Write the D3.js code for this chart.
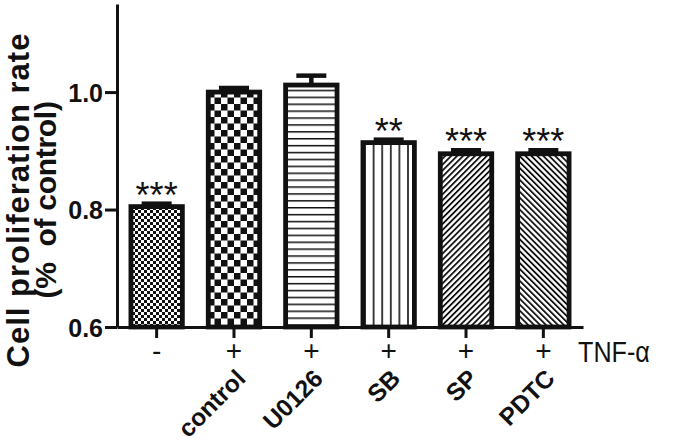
<!DOCTYPE html>
<html><head><meta charset="utf-8">
<script src="https://cdn.jsdelivr.net/npm/d3@7"></script>
<style>
body{margin:0;background:#fff}
svg{display:block}
text{font-family:"Liberation Sans",Arial,Helvetica,sans-serif;fill:#111}
</style>
</head><body>
<script>
// ---- data ----
const groups = ["g1","g2","g3","g4","g5","g6"];
const tnfSigns = ["-","+","+","+","+","+"];
const drugLabels = ["","control","U0126","SB","SP","PDTC"];
const means = [0.805,1.000,1.012,0.914,0.895,0.895];
const sems = [0.005,0.007,0.016,0.005,0.006,0.006];
const stars = ["***","","","**","***","***"];
const yTicks = [0.6,0.8,1.0];
const patternIds = ["fineCheck","coarseCheck","hLines","vLines","diagUp","diagDown"];

const W = 680, H = 442;
const ink = "#111";
const svg = d3.select("body").append("svg").attr("width",W).attr("height",H);

// ---- patterns ----
const defs = svg.append("defs");
function checker(id, s){
  const p = defs.append("pattern").attr("id",id).attr("patternUnits","userSpaceOnUse")
    .attr("width",2*s).attr("height",2*s);
  p.append("rect").attr("width",2*s).attr("height",2*s).attr("fill","#fff");
  p.append("rect").attr("width",s).attr("height",s).attr("fill",ink);
  p.append("rect").attr("x",s).attr("y",s).attr("width",s).attr("height",s).attr("fill",ink);
}
checker("fineCheck",3);
checker("coarseCheck",6.5);
{
  const p = defs.append("pattern").attr("id","hLines").attr("patternUnits","userSpaceOnUse").attr("width",10).attr("height",6.9);
  p.append("rect").attr("width",10).attr("height",6.9).attr("fill","#fff");
  p.append("rect").attr("y",0).attr("width",10).attr("height",1.5).attr("fill",ink);
}
{
  const p = defs.append("pattern").attr("id","vLines").attr("patternUnits","userSpaceOnUse").attr("width",8.6).attr("height",10);
  p.append("rect").attr("width",8.6).attr("height",10).attr("fill","#fff");
  p.append("rect").attr("x",3).attr("width",1.6).attr("height",10).attr("fill",ink);
}
function diag(id, angle){
  const p = defs.append("pattern").attr("id",id).attr("patternUnits","userSpaceOnUse")
    .attr("width",4.2).attr("height",10).attr("patternTransform",`rotate(${angle})`);
  p.append("rect").attr("width",4.2).attr("height",10).attr("fill","#fff");
  p.append("rect").attr("width",1.8).attr("height",10).attr("fill",ink);
}
diag("diagUp",45);
diag("diagDown",-45);

// ---- scales ----
const y = d3.scaleLinear().domain([0.6,1.15]).range([327,4]);
const x = d3.scaleBand().domain(groups).range([117,583]).paddingInner(0.335).paddingOuter(0.18);
const bw = x.bandwidth();
const cx = g => x(g) + bw/2;

// ---- bars ----
const data = groups.map((g,i)=>({g, sign:tnfSigns[i], label:drugLabels[i], mean:means[i], sem:sems[i], star:stars[i], pat:patternIds[i]}));

svg.append("g").selectAll("rect").data(data).join("rect")
  .attr("x",d=>x(d.g)).attr("width",bw)
  .attr("y",d=>y(d.mean)).attr("height",d=>y(0.6)-y(d.mean))
  .attr("fill",d=>`url(#${d.pat})`).attr("stroke",ink).attr("stroke-width",4.8);

// error bars
const eb = svg.append("g").attr("stroke",ink).attr("stroke-width",4.5);
eb.selectAll("line.v").data(data).join("line").attr("class","v")
  .attr("x1",d=>cx(d.g)).attr("x2",d=>cx(d.g))
  .attr("y1",d=>y(d.mean)).attr("y2",d=>y(d.mean+d.sem));
eb.selectAll("line.c").data(data).join("line").attr("class","c")
  .attr("x1",d=>cx(d.g)-15).attr("x2",d=>cx(d.g)+15)
  .attr("y1",d=>y(d.mean+d.sem)).attr("y2",d=>y(d.mean+d.sem));

// stars
svg.append("g").selectAll("text").data(data.filter(d=>d.star)).join("text")
  .attr("x",d=>cx(d.g)).attr("y",d=>y(d.mean+d.sem)+4)
  .attr("text-anchor","middle").style("font-size","36px").text(d=>d.star);

// ---- axes ----
const yAxis = svg.append("g").attr("transform","translate(117,0)")
  .call(d3.axisLeft(y).tickValues(yTicks).tickFormat(d3.format(".1f")).tickSizeInner(12).tickSizeOuter(0).tickPadding(2));
yAxis.select(".domain").attr("stroke",ink).attr("stroke-width",3);
yAxis.selectAll(".tick line").attr("stroke",ink).attr("stroke-width",3);
yAxis.selectAll(".tick text").style("font-size","25px").style("font-weight","bold").attr("fill",ink).attr("dy","0.36em");

const xAxis = svg.append("g").attr("transform","translate(0,327)")
  .call(d3.axisBottom(x).tickSizeInner(11).tickSizeOuter(0).tickFormat(""));
xAxis.select(".domain").attr("stroke",ink).attr("stroke-width",3);
xAxis.selectAll(".tick line").attr("stroke",ink).attr("stroke-width",3);

// TNF signs
svg.append("g").selectAll("text").data(data).join("text")
  .attr("x",d=>cx(d.g)).attr("y",360).attr("text-anchor","middle")
  .style("font-size","28px").text(d=>d.sign);
svg.append("text").attr("transform","translate(578,362) scale(0.84,1)")
  .style("font-size","30px").text("TNF-α");

// drug labels
svg.append("g").selectAll("text").data(data.filter(d=>d.label)).join("text")
  .attr("transform",d=>`translate(${cx(d.g)+13},380) rotate(-45)`)
  .attr("text-anchor","end").style("font-size","24.5px").style("font-weight","bold").text(d=>d.label);

// y title
const yt = svg.append("text").attr("transform","translate(0,200) rotate(-90)")
  .attr("text-anchor","middle").style("font-weight","bold");
yt.append("tspan").attr("x",0).attr("y",29).style("font-size","31px").style("letter-spacing","1px").text("Cell proliferation rate");
yt.append("tspan").attr("x",0).attr("y",56).style("font-size","30px").style("letter-spacing","-0.3px").style("white-space","pre").text("(%  of control)");
</script>
</body></html>
